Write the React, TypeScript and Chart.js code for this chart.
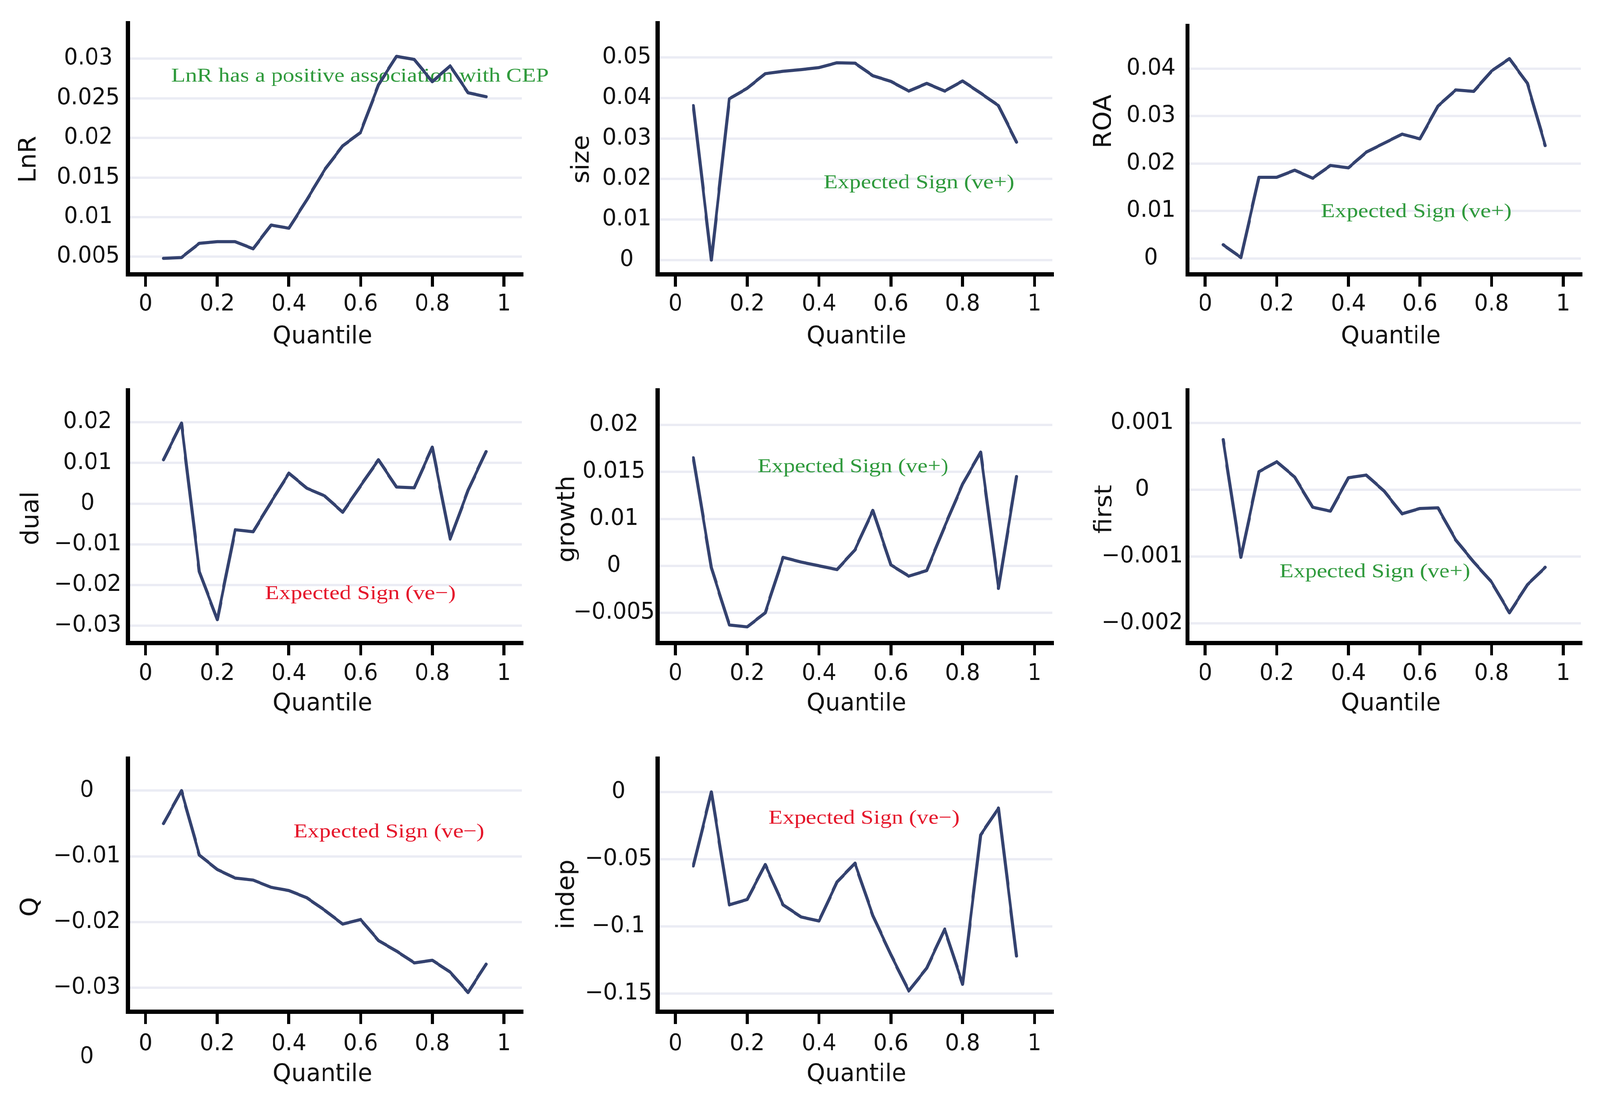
import { useEffect, useRef } from "react";
import { Chart, registerables } from "chart.js";

Chart.register(...registerables);

// quantile grid shared by every panel
const quantiles = [0.05, 0.1, 0.15, 0.2, 0.25, 0.3, 0.35, 0.4, 0.45, 0.5, 0.55, 0.6, 0.65, 0.7, 0.75, 0.8, 0.85, 0.9, 0.95];
const xTicks = [0, 0.2, 0.4, 0.6, 0.8, 1];
const xTickLabels = ["0", "0.2", "0.4", "0.6", "0.8", "1"];

// coefficient estimates per variable
const lnr = [0.0048, 0.0049, 0.0067, 0.0069, 0.0069, 0.006, 0.009, 0.0086, 0.0122, 0.016, 0.019, 0.0207, 0.0267, 0.0303, 0.0299, 0.0271, 0.0291, 0.0257, 0.0252];
const size = [0.0381, 0.0, 0.0398, 0.0424, 0.046, 0.0466, 0.047, 0.0475, 0.0487, 0.0486, 0.0455, 0.0441, 0.0417, 0.0436, 0.0417, 0.0442, 0.0412, 0.0381, 0.0291];
const roa = [0.0029, 0.0002, 0.0171, 0.0171, 0.0186, 0.0169, 0.0196, 0.0191, 0.0224, 0.0243, 0.0262, 0.0252, 0.0321, 0.0355, 0.0352, 0.0395, 0.0421, 0.0369, 0.0238];
const dual = [0.0108, 0.0198, -0.0167, -0.0285, -0.0064, -0.0069, 0.0004, 0.0075, 0.0038, 0.0019, -0.0021, 0.0044, 0.0108, 0.0041, 0.0039, 0.0139, -0.0087, 0.0033, 0.0128];
const growth = [0.0165, 0.0048, -0.0013, -0.0015, 0.0, 0.0059, 0.0054, 0.005, 0.0046, 0.0067, 0.0109, 0.0051, 0.0039, 0.0045, 0.0092, 0.0137, 0.0171, 0.0026, 0.0145];
const first = [0.00075, -0.00101, 0.00027, 0.00042, 0.00019, -0.00026, -0.00032, 0.00018, 0.00022, -0.00002, -0.00036, -0.00028, -0.00027, -0.00075, -0.00108, -0.00138, -0.00184, -0.00142, -0.00116];
const q = [-0.005, 0.0, -0.0098, -0.012, -0.0133, -0.0136, -0.0147, -0.0152, -0.0163, -0.0182, -0.0203, -0.0196, -0.0228, -0.0244, -0.0262, -0.0258, -0.0276, -0.0307, -0.0264];
const indep = [-0.055, 0.0, -0.084, -0.08, -0.054, -0.084, -0.093, -0.096, -0.067, -0.053, -0.092, -0.121, -0.148, -0.131, -0.102, -0.143, -0.032, -0.012, -0.122];

// y tick values and the labels printed next to them
const lnrTicks = [0.005, 0.01, 0.015, 0.02, 0.025, 0.03];
const lnrTickLabels = ["0.005", "0.01", "0.015", "0.02", "0.025", "0.03"];
const sizeTicks = [0, 0.01, 0.02, 0.03, 0.04, 0.05];
const sizeTickLabels = ["0", "0.01", "0.02", "0.03", "0.04", "0.05"];
const roaTicks = [0, 0.01, 0.02, 0.03, 0.04];
const roaTickLabels = ["0", "0.01", "0.02", "0.03", "0.04"];
const dualTicks = [-0.03, -0.02, -0.01, 0, 0.01, 0.02];
const dualTickLabels = ["−0.03", "−0.02", "−0.01", "0", "0.01", "0.02"];
const growthTicks = [0, 0.005, 0.01, 0.015, 0.02];
const growthTickLabels = ["−0.005", "0", "0.01", "0.015", "0.02"];
const firstTicks = [-0.002, -0.001, 0, 0.001];
const firstTickLabels = ["−0.002", "−0.001", "0", "0.001"];
const qTicks = [-0.03, -0.02, -0.01, 0];
const qTickLabels = ["−0.03", "−0.02", "−0.01", "0"];
const indepTicks = [-0.15, -0.1, -0.05, 0];
const indepTickLabels = ["−0.15", "−0.1", "−0.05", "0"];

const LINE = "#34426f";
const GRID = "#ebecf4";
const GREEN = "#2f9a3c";
const RED = "#e5162b";
const SANS = "'DejaVu Sans'";
const PAGE_W = 4222;
const PAGE_H = 2837;

type Pt = [number, number];
type PanelCfg = {
  name: string;
  values: number[];
  yMin: number;
  yMax: number;
  yTicks: number[];
  yTickLabels: string[];
  box: [number, number, number, number]; // canvas left, top, width, height
  area: [number, number, number, number]; // plot left, top, right, bottom
  labelDist: number;
  xPad: number;
  yTitleAt: Pt;
  xTitleAt: Pt;
  note: string;
  noteColor: string;
  noteAt: Pt;
  extra?: { text: string; at: Pt }[];
};

const panels: PanelCfg[] = [
  {
    name: "LnR", values: lnr, yMin: 0.0028, yMax: 0.0345, yTicks: lnrTicks, yTickLabels: lnrTickLabels,
    box: [0, 0, 1480, 930], area: [337, 59, 1377, 702], labelDist: 104, xPad: 11,
    yTitleAt: [77, 408], xTitleAt: [851, 863],
    note: "LnR has a positive association with CEP", noteColor: GREEN, noteAt: [950, 196],
  },
  {
    name: "size", values: size, yMin: -0.0035, yMax: 0.0585, yTicks: sizeTicks, yTickLabels: sizeTickLabels,
    box: [1400, 0, 1420, 930], area: [1735, 59, 2777, 702], labelDist: 81, xPad: 11,
    yTitleAt: [1536, 408], xTitleAt: [2260, 863],
    note: "Expected Sign (ve+)", noteColor: GREEN, noteAt: [2425, 469],
  },
  {
    name: "ROA", values: roa, yMin: -0.0033, yMax: 0.049, yTicks: roaTicks, yTickLabels: roaTickLabels,
    box: [2800, 0, 1422, 930], area: [3133, 59, 4172, 702], labelDist: 96, xPad: 11,
    yTitleAt: [2914, 311], xTitleAt: [3670, 863],
    note: "Expected Sign (ve+)", noteColor: GREEN, noteAt: [3737, 543],
  },
  {
    name: "dual", values: dual, yMin: -0.0342, yMax: 0.0279, yTicks: dualTicks, yTickLabels: dualTickLabels,
    box: [0, 940, 1420, 920], area: [337, 999, 1377, 1646], labelDist: 106, xPad: 13,
    yTitleAt: [84, 1327], xTitleAt: [851, 1803],
    note: "Expected Sign (ve−)", noteColor: RED, noteAt: [951, 1521],
  },
  {
    name: "growth", values: growth, yMin: -0.0032, yMax: 0.0237, yTicks: growthTicks, yTickLabels: growthTickLabels,
    box: [1400, 940, 1420, 920], area: [1735, 999, 2777, 1646], labelDist: 115, xPad: 13,
    yTitleAt: [1498, 1329], xTitleAt: [2260, 1803],
    note: "Expected Sign (ve+)", noteColor: GREEN, noteAt: [2251, 1196],
  },
  {
    name: "first", values: first, yMin: -0.00229, yMax: 0.00149, yTicks: firstTicks, yTickLabels: firstTickLabels,
    box: [2800, 940, 1422, 920], area: [3133, 999, 4172, 1646], labelDist: 119, xPad: 13,
    yTitleAt: [2916, 1304], xTitleAt: [3670, 1803],
    note: "Expected Sign (ve+)", noteColor: GREEN, noteAt: [3628, 1465],
  },
  {
    name: "Q", values: q, yMin: -0.0336, yMax: 0.0049, yTicks: qTicks, yTickLabels: qTickLabels,
    box: [0, 1880, 1420, 957], area: [337, 1942, 1377, 2590], labelDist: 108, xPad: 17,
    yTitleAt: [82, 2322], xTitleAt: [851, 2752],
    note: "Expected Sign (ve−)", noteColor: RED, noteAt: [1026, 2131],
    extra: [{ text: "0", at: [229, 2707] }],
  },
  {
    name: "indep", values: indep, yMin: -0.1633, yMax: 0.0249, yTicks: indepTicks, yTickLabels: indepTickLabels,
    box: [1400, 1880, 1420, 957], area: [1735, 1942, 2777, 2590], labelDist: 103, xPad: 17,
    yTitleAt: [1497, 2290], xTitleAt: [2260, 2752],
    note: "Expected Sign (ve−)", noteColor: RED, noteAt: [2280, 2096],
  },
];

function Panel({ p }: { p: PanelCfg }) {
  const chartRef = useRef<HTMLCanvasElement>(null);
  const chartInstance = useRef<Chart | null>(null);
  const [cx, cy, cw, ch] = p.box;
  const [L, T, R, B] = p.area;

  useEffect(() => {
    if (!chartRef.current) return;
    if (chartInstance.current) chartInstance.current.destroy();
    const ctx = chartRef.current.getContext("2d");
    if (!ctx) return;

    // centre the y labels at labelDist left of the axis
    ctx.font = `58px ${SANS}`;
    const widest = Math.max(...p.yTickLabels.map((t) => ctx.measureText(t).width));
    const yPad = Math.max(0, p.labelDist - widest / 2);

    const textPlugin = {
      id: "panelText",
      beforeDatasetsDraw(chart: Chart) {
        const c = chart.ctx;
        c.save();
        c.font = "51px 'Liberation Serif'";
        c.fillStyle = p.noteColor;
        c.textAlign = "center";
        c.textBaseline = "middle";
        c.translate(p.noteAt[0] - cx, p.noteAt[1] - cy);
        c.scale(1.2, 1);
        c.fillText(p.note, 0, 0);
        c.restore();
      },
      afterDraw(chart: Chart) {
        const c = chart.ctx;
        c.save();
        c.fillStyle = "#111";
        c.textAlign = "center";
        c.textBaseline = "middle";
        c.font = `62px ${SANS}`;
        c.fillText("Quantile", p.xTitleAt[0] - cx, p.xTitleAt[1] - cy);
        c.font = `58px ${SANS}`;
        (p.extra || []).forEach((e) => c.fillText(e.text, e.at[0] - cx, e.at[1] - cy));
        c.translate(p.yTitleAt[0] - cx, p.yTitleAt[1] - cy);
        c.rotate(-Math.PI / 2);
        c.font = `64px ${SANS}`;
        c.fillText(p.name, 0, 0);
        c.restore();
      },
    };

    chartInstance.current = new Chart(ctx, {
      type: "line",
      data: {
        datasets: [
          {
            label: p.name,
            data: quantiles.map((x, i) => ({ x, y: p.values[i] })),
            borderColor: LINE,
            borderWidth: 8,
            pointRadius: 0,
            tension: 0,
            borderJoinStyle: "round",
            borderCapStyle: "round",
            fill: false,
          },
        ],
      },
      options: {
        animation: false,
        responsive: false,
        maintainAspectRatio: false,
        events: [],
        layout: { padding: { left: 0, top: T - cy, right: cw - (R - cx), bottom: 0 } },
        plugins: { legend: { display: false }, tooltip: { enabled: false } },
        scales: {
          x: {
            type: "linear",
            min: -0.05,
            max: 1.05,
            afterBuildTicks: (s: any) => {
              s.ticks = xTicks.map((v) => ({ value: v }));
            },
            afterFit: (s: any) => {
              s.height = ch - (B - cy);
            },
            ticks: {
              autoSkip: false,
              maxRotation: 0,
              padding: p.xPad,
              color: "#111",
              font: { family: SANS, size: 58, lineHeight: 1.2 },
              callback: (_v: any, i: number) => xTickLabels[i],
            },
            grid: { drawOnChartArea: false, drawTicks: true, tickLength: 32, tickWidth: 8, tickColor: "#000", lineWidth: 8 },
            border: { display: true, color: "#000", width: 11 },
          },
          y: {
            type: "linear",
            min: p.yMin,
            max: p.yMax,
            afterBuildTicks: (s: any) => {
              s.ticks = p.yTicks.map((v) => ({ value: v }));
            },
            afterFit: (s: any) => {
              s.width = L - cx;
            },
            ticks: {
              autoSkip: false,
              crossAlign: "center",
              padding: yPad,
              color: "#111",
              font: { family: SANS, size: 58, lineHeight: 1.2 },
              callback: (_v: any, i: number) => p.yTickLabels[i],
            },
            grid: { color: GRID, lineWidth: 6, drawTicks: false },
            border: { display: true, color: "#000", width: 11 },
          },
        },
      },
      plugins: [textPlugin],
    });

    return () => {
      if (chartInstance.current) {
        chartInstance.current.destroy();
        chartInstance.current = null;
      }
    };
  }, []);

  return (
    <canvas
      ref={chartRef}
      width={cw}
      height={ch}
      style={{ position: "absolute", left: cx, top: cy, width: cw, height: ch }}
    />
  );
}

export default function App() {
  // fit the 4222x2837 layout into whatever viewport the page actually gets
  const sx = (typeof window !== "undefined" ? document.documentElement.clientWidth || window.innerWidth : PAGE_W) / PAGE_W;
  const sy = (typeof window !== "undefined" ? window.innerHeight : PAGE_H) / PAGE_H;

  return (
    <div
      style={{
        position: "fixed",
        left: 0,
        top: 0,
        width: PAGE_W,
        height: PAGE_H,
        overflow: "hidden",
        background: "#fff",
        transformOrigin: "0 0",
        transform: `scale(${sx}, ${sy})`,
      }}
    >
      {panels.map((p) => (
        <Panel key={p.name} p={p} />
      ))}
    </div>
  );
}
